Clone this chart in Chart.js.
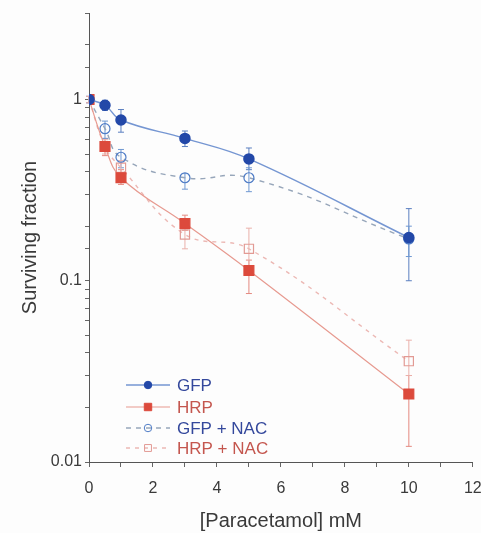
<!DOCTYPE html>
<html>
<head>
<meta charset="utf-8">
<script src="https://cdn.jsdelivr.net/npm/chart.js@4"></script>
<style>
  html, body { margin: 0; padding: 0; background: #fdfdfd; }
  #wrap { width: 481px; height: 533px; }
</style>
</head>
<body>
<div id="wrap"><canvas id="survival"></canvas></div>
<script>
const doses = [0, 0.5, 1, 3, 5, 10];

const gfp      = [1, 0.93, 0.77, 0.61, 0.47, 0.173];
const gfpHi    = [1.04, 0.99, 0.88, 0.67, 0.54, 0.25];
const gfpLo    = [0.96, 0.87, 0.66, 0.55, 0.41, 0.10];

const hrp      = [1, 0.55, 0.37, 0.207, 0.114, 0.0237];
const hrpHi    = [1.04, 0.61, 0.41, 0.23, 0.13, 0.030];
const hrpLo    = [0.96, 0.49, 0.34, 0.19, 0.085, 0.0122];

const gfpNac   = [1, 0.69, 0.48, 0.37, 0.37, 0.17];
const gfpNacHi = [1.04, 0.76, 0.53, 0.39, 0.42, 0.20];
const gfpNacLo = [0.96, 0.61, 0.42, 0.32, 0.31, 0.136];

const hrpNac   = [1, 0.55, 0.42, 0.18, 0.15, 0.036];
const hrpNacHi = [1.04, 0.60, 0.46, 0.22, 0.195, 0.047];
const hrpNacLo = [0.96, 0.50, 0.36, 0.15, 0.12, 0.030];

const seriesNames = ["GFP", "HRP", "GFP + NAC", "HRP + NAC"];
const yTickLabels = ["0.01", "0.1", "1"];
const xTickLabels = ["0", "2", "4", "6", "8", "10", "12"];

const FONT = "'Liberation Sans', Arial, sans-serif";

function pts(ys) {
  return doses.map((x, i) => ({ x: x, y: ys[i] }));
}

// vertical error bars with small caps, drawn under the markers
const errorBars = {
  id: "errorBars",
  beforeDatasetsDraw(chart) {
    const ctx = chart.ctx;
    const ys = chart.scales.y;
    chart.data.datasets.forEach((ds, di) => {
      const meta = chart.getDatasetMeta(di);
      ctx.save();
      ctx.strokeStyle = ds.errColor;
      ctx.lineWidth = 1;
      meta.data.forEach((pt, i) => {
        const top = ys.getPixelForValue(ds.errHi[i]);
        const bot = ys.getPixelForValue(ds.errLo[i]);
        ctx.beginPath();
        ctx.moveTo(pt.x, top); ctx.lineTo(pt.x, bot);
        ctx.moveTo(pt.x - 3, top); ctx.lineTo(pt.x + 3, top);
        ctx.moveTo(pt.x - 3, bot); ctx.lineTo(pt.x + 3, bot);
        ctx.stroke();
      });
      ctx.restore();
    });
  }
};

// legend in the lower left: line sample with marker, then the name
const sampleLegend = {
  id: "sampleLegend",
  afterDraw(chart) {
    const ctx = chart.ctx;
    const rows = [385, 407, 428, 448];
    chart.data.datasets.forEach((ds, i) => {
      const y = rows[i];
      ctx.save();
      ctx.strokeStyle = ds.borderColor;
      ctx.lineWidth = ds.borderWidth;
      ctx.setLineDash(ds.borderDash || []);
      ctx.beginPath();
      ctx.moveTo(126, y); ctx.lineTo(170, y);
      ctx.stroke();
      ctx.setLineDash([]);
      ctx.fillStyle = ds.pointBackgroundColor;
      ctx.strokeStyle = ds.pointBorderColor;
      ctx.lineWidth = 1;
      Chart.helpers.drawPoint(ctx, {
        pointStyle: ds.pointStyle,
        radius: ds.pointRadius * 0.75,
        borderWidth: 1
      }, 148, y);
      ctx.font = "17px " + FONT;
      ctx.fillStyle = ds.textColor;
      ctx.textBaseline = "middle";
      ctx.fillText(ds.label, 177, y + 1);
      ctx.restore();
    });
  }
};

Chart.defaults.font.family = FONT;

new Chart(document.getElementById("survival"), {
  type: "line",
  data: {
    datasets: [
      {
        label: seriesNames[0],
        data: pts(gfp), errHi: gfpHi, errLo: gfpLo,
        borderColor: "#7596d2", borderWidth: 1.5, tension: 0.4,
        pointStyle: "circle", pointRadius: 5,
        pointBackgroundColor: "#2348a8", pointBorderColor: "#2348a8",
        errColor: "#5b7fc0", textColor: "#34489c"
      },
      {
        label: seriesNames[1],
        data: pts(hrp), errHi: hrpHi, errLo: hrpLo,
        borderColor: "#e79a90", borderWidth: 1.2, tension: 0.4,
        pointStyle: "rect", pointRadius: 7,
        pointBackgroundColor: "#dc4a3c", pointBorderColor: "#dc4a3c",
        errColor: "#e48a80", textColor: "#c4564e"
      },
      {
        label: seriesNames[2],
        data: pts(gfpNac), errHi: gfpNacHi, errLo: gfpNacLo,
        borderColor: "#97a6ba", borderWidth: 1.4, borderDash: [5, 5], tension: 0.45,
        pointStyle: "circle", pointRadius: 5, pointBorderWidth: 1.2,
        pointBackgroundColor: "rgba(255,255,255,0)", pointBorderColor: "#4f7cc6",
        errColor: "#6f98d2", textColor: "#34489c"
      },
      {
        label: seriesNames[3],
        data: pts(hrpNac), errHi: hrpNacHi, errLo: hrpNacLo,
        borderColor: "#ecb8b4", borderWidth: 1.4, borderDash: [4, 5], tension: 0.4,
        pointStyle: "rect", pointRadius: 6.5, pointBorderWidth: 1.2,
        pointBackgroundColor: "rgba(255,255,255,0)", pointBorderColor: "#e29a94",
        errColor: "#eab0aa", textColor: "#c4564e"
      }
    ]
  },
  options: {
    responsive: true, maintainAspectRatio: false,
    animation: false,
    layout: { padding: { top: 13, right: 4, left: 0, bottom: 0 } },
    plugins: { legend: { display: false }, tooltip: { enabled: false } },
    scales: {
      x: {
        type: "linear", min: 0, max: 12,
        afterFit: s => { s.height = 71; s.paddingRight = 8; },
        border: { display: true, color: "#555", width: 1 },
        grid: { drawOnChartArea: false, drawTicks: true, tickLength: 5, color: "#666" },
        ticks: {
          stepSize: 1, color: "#3a3a3a", font: { size: 16 }, padding: 12,
          maxRotation: 0,
          callback: v => (v % 2 === 0 ? xTickLabels[v / 2] : "")
        },
        title: {
          display: true, text: "[Paracetamol] mM", color: "#3a3a3a",
          font: { size: 20 }, padding: { top: 0, bottom: 0 }
        }
      },
      y: {
        type: "logarithmic", min: 0.01, max: 3,
        afterFit: s => { s.width = 89; },
        border: { display: true, color: "#555", width: 1 },
        grid: { drawOnChartArea: false, drawTicks: true, tickLength: 4, color: "#666" },
        ticks: {
          color: "#3a3a3a", font: { size: 16 }, padding: 3, autoSkip: false,
          callback: v => {
            const e = Math.log10(v);
            if (Math.abs(e - Math.round(e)) > 1e-6) return "";
            return yTickLabels[Math.round(e) + 2] || "";
          }
        },
        title: {
          display: true, text: "Surviving fraction", color: "#3a3a3a",
          font: { size: 20 }, padding: { top: 18, bottom: 0 }
        }
      }
    }
  },
  plugins: [errorBars, sampleLegend]
});
</script>
</body>
</html>
